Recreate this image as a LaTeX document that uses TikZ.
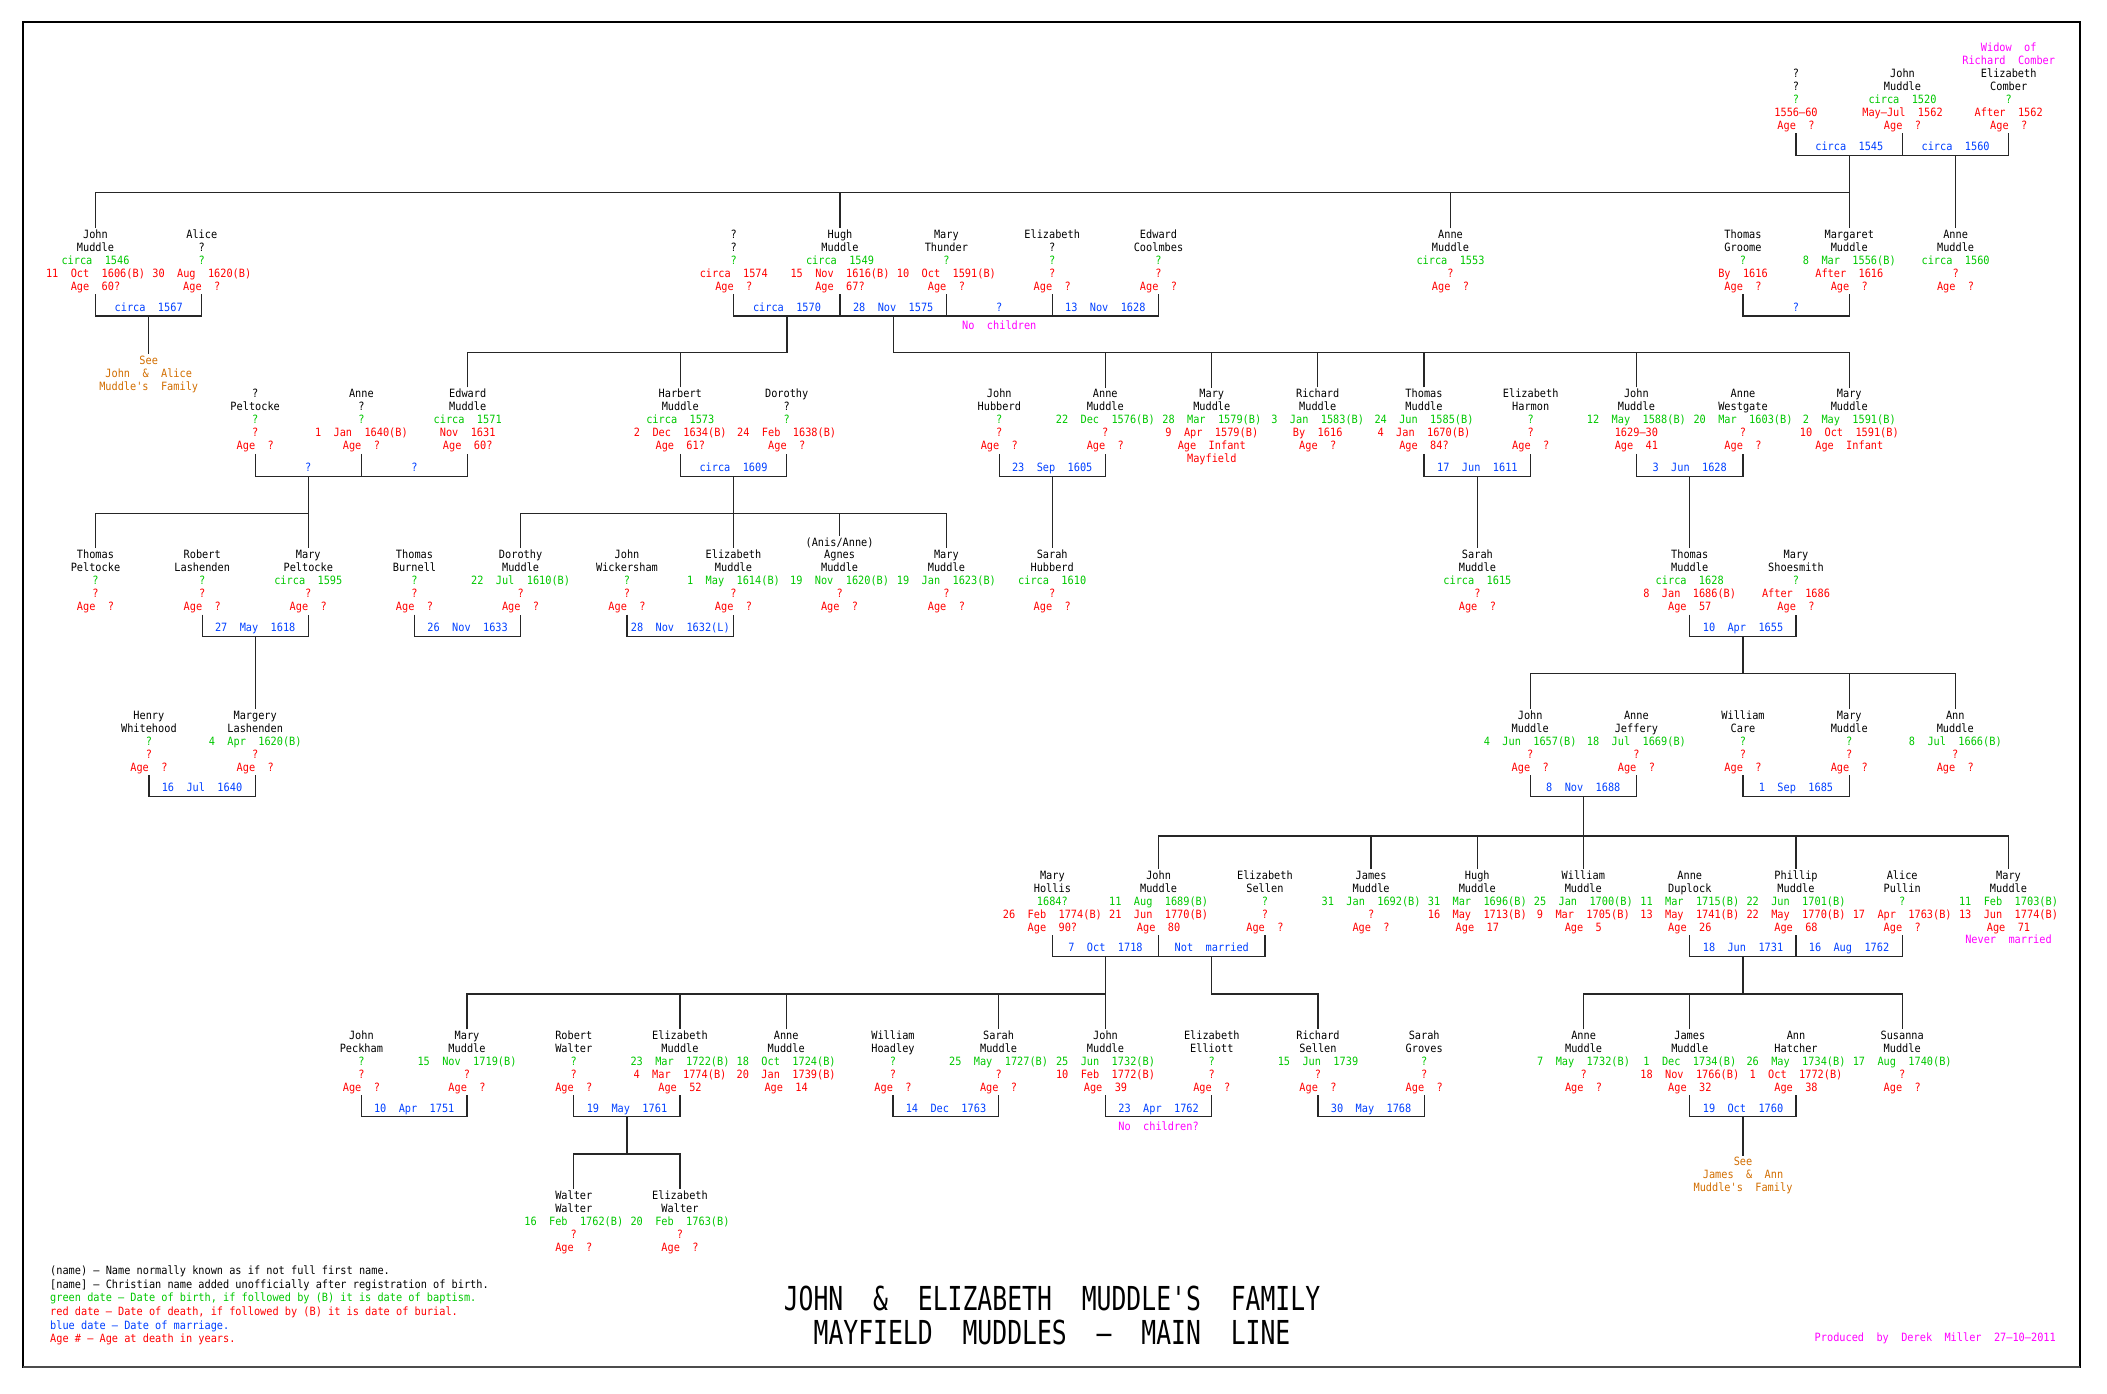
\documentclass[tikz,border=0pt]{standalone}
\usepackage{fontspec}
\newfontfamily\cad{DejaVu Sans Mono}[FakeStretch=0.9]
\newfontfamily\tfont{DejaVu Sans Mono}[FakeStretch=0.75]
\definecolor{gr}{RGB}{0,200,0}
\definecolor{rd}{RGB}{255,0,0}
\definecolor{bl}{RGB}{0,64,255}
\definecolor{mg}{RGB}{255,0,255}
\definecolor{orn}{RGB}{210,110,0}
\tikzset{
  person/.style={anchor=base, align=center, inner xsep=0pt, inner ysep=1.5pt,
    font={\cad\fontsize{11.4}{13}\selectfont\spaceskip=12.4pt\relax}, text=black},
  mlab/.style={person, text=bl},
  note/.style={person},
  legend/.style={anchor=base west, inner sep=0pt, font={\cad\fontsize{11.4}{13}\selectfont}},
  ttl/.style={anchor=base, inner sep=0pt, font={\tfont\fontsize{33}{40}\selectfont\spaceskip=29.8pt\relax}},
  ln/.style={line width=1.3pt, draw=black!85}
}
% base anchor of a multi-line node = baseline of its last line
\newcommand{\pp}[8]{\node[person] (#1) at (#2,#3+52) {#4\\#5\\\textcolor{gr}{#6}\\\textcolor{rd}{#7}\\\textcolor{rd}{#8}};}
\begin{document}
\begin{tikzpicture}[x=1pt,y=-1pt]
\fill[white] (0,0) rectangle (2107,1393);
\useasboundingbox (0,0) rectangle (2107,1393);
\draw[line width=1.3pt] (23,22) rectangle (2080,1367);
\draw[line width=2.6pt, black!70] (23,1367) -- (2080,1367);

% ---------- Row 0
\pp{p0a}{1796}{77.3}{?}{?}{?}{1556–60}{Age ?}
\pp{p0b}{1902.5}{77.3}{John}{Muddle}{circa 1520}{May–Jul 1562}{Age ?}
\pp{p0c}{2008.7}{77.3}{Elizabeth}{Comber}{?}{After 1562}{Age ?}
\node[note, text=mg] (widow) at (2008.7,64.3) {Widow of\\Richard Comber};
\node[mlab] (l0a) at (1849.3,150.7) {circa 1545};
\node[mlab] (l0b) at (1955.6,150.7) {circa 1560};

% ---------- Row 1
\pp{r1a}{95.5}{238.3}{John}{Muddle}{circa 1546}{11 Oct 1606(B)}{Age 60?}
\pp{r1b}{201.8}{238.3}{Alice}{?}{?}{30 Aug 1620(B)}{Age ?}
\pp{r1c}{733.8}{238.3}{?}{?}{?}{circa 1574}{Age ?}
\pp{r1d}{840}{238.3}{Hugh}{Muddle}{circa 1549}{15 Nov 1616(B)}{Age 67?}
\pp{r1e}{946.4}{238.3}{Mary}{Thunder}{?}{10 Oct 1591(B)}{Age ?}
\pp{r1f}{1052.2}{238.3}{Elizabeth}{?}{?}{?}{Age ?}
\pp{r1g}{1158.5}{238.3}{Edward}{Coolmbes}{?}{?}{Age ?}
\pp{r1h}{1450.5}{238.3}{Anne}{Muddle}{circa 1553}{?}{Age ?}
\pp{r1i}{1743}{238.3}{Thomas}{Groome}{?}{By 1616}{Age ?}
\pp{r1j}{1849.3}{238.3}{Margaret}{Muddle}{8 Mar 1556(B)}{After 1616}{Age ?}
\pp{r1k}{1955.6}{238.3}{Anne}{Muddle}{circa 1560}{?}{Age ?}
\node[mlab] (l1a) at (148.7,311) {circa 1567};
\node[mlab] (l1b) at (787,311) {circa 1570};
\node[mlab] (l1c) at (893.2,311) {28 Nov 1575};
\node[mlab] (l1d) at (999.3,311) {?};
\node[mlab] (l1e) at (1105.3,311) {13 Nov 1628};
\node[mlab] (l1f) at (1796,311) {?};
\node[note, text=mg] (noch) at (999.3,329.7) {No children};
\node[note, text=orn] (see1) at (148.7,390.3) {See\\John \& Alice\\Muddle's Family};

% ---------- Row 2
\pp{r2a}{255.2}{397.8}{?}{Peltocke}{?}{?}{Age ?}
\pp{r2b}{361.4}{397.8}{Anne}{?}{?}{1 Jan 1640(B)}{Age ?}
\pp{r2c}{467.7}{397.8}{Edward}{Muddle}{circa 1571}{Nov 1631}{Age 60?}
\pp{r2d}{680.3}{397.8}{Harbert}{Muddle}{circa 1573}{2 Dec 1634(B)}{Age 61?}
\pp{r2e}{786.7}{397.8}{Dorothy}{?}{?}{24 Feb 1638(B)}{Age ?}
\pp{r2f}{999.3}{397.8}{John}{Hubberd}{?}{?}{Age ?}
\pp{r2g}{1105.3}{397.8}{Anne}{Muddle}{22 Dec 1576(B)}{?}{Age ?}
\pp{r2h}{1211.8}{397.8}{Mary}{Muddle}{28 Mar 1579(B)}{9 Apr 1579(B)}{Age Infant}
\node[note, text=rd] (mayf) at (1211.8,462.8) {Mayfield};
\pp{r2i}{1317.7}{397.8}{Richard}{Muddle}{3 Jan 1583(B)}{By 1616}{Age ?}
\pp{r2j}{1424}{397.8}{Thomas}{Muddle}{24 Jun 1585(B)}{4 Jan 1670(B)}{Age 84?}
\pp{r2k}{1530.7}{397.8}{Elizabeth}{Harmon}{?}{?}{Age ?}
\pp{r2l}{1636.4}{397.8}{John}{Muddle}{12 May 1588(B)}{1629–30}{Age 41}
\pp{r2m}{1743}{397.8}{Anne}{Westgate}{20 Mar 1603(B)}{?}{Age ?}
\pp{r2n}{1849.3}{397.8}{Mary}{Muddle}{2 May 1591(B)}{10 Oct 1591(B)}{Age Infant}
\node[mlab] (l2a) at (308.3,471.3) {?};
\node[mlab] (l2b) at (414.5,471.3) {?};
\node[mlab] (l2c) at (733.5,471.3) {circa 1609};
\node[mlab] (l2d) at (1052.2,471.3) {23 Sep 1605};
\node[mlab] (l2e) at (1477.4,471.3) {17 Jun 1611};
\node[mlab] (l2f) at (1689.7,471.3) {3 Jun 1628};

% ---------- Row 3
\pp{r3a}{95.5}{558.5}{Thomas}{Peltocke}{?}{?}{Age ?}
\pp{r3b}{202.2}{558.5}{Robert}{Lashenden}{?}{?}{Age ?}
\pp{r3c}{308.3}{558.5}{Mary}{Peltocke}{circa 1595}{?}{Age ?}
\pp{r3d}{414.5}{558.5}{Thomas}{Burnell}{?}{?}{Age ?}
\pp{r3e}{520.6}{558.5}{Dorothy}{Muddle}{22 Jul 1610(B)}{?}{Age ?}
\pp{r3f}{627}{558.5}{John}{Wickersham}{?}{?}{Age ?}
\pp{r3g}{733.5}{558.5}{Elizabeth}{Muddle}{1 May 1614(B)}{?}{Age ?}
\pp{r3h}{839.6}{558.5}{Agnes}{Muddle}{19 Nov 1620(B)}{?}{Age ?}
\node[note] (anis) at (839.6,546.5) {(Anis/Anne)};
\pp{r3i}{946.4}{558.5}{Mary}{Muddle}{19 Jan 1623(B)}{?}{Age ?}
\pp{r3j}{1052.2}{558.5}{Sarah}{Hubberd}{circa 1610}{?}{Age ?}
\pp{r3k}{1477.4}{558.5}{Sarah}{Muddle}{circa 1615}{?}{Age ?}
\pp{r3l}{1689.7}{558.5}{Thomas}{Muddle}{circa 1628}{8 Jan 1686(B)}{Age 57}
\pp{r3m}{1796}{558.5}{Mary}{Shoesmith}{?}{After 1686}{Age ?}
\node[mlab] (l3a) at (255.2,631.3) {27 May 1618};
\node[mlab] (l3b) at (467.6,631.3) {26 Nov 1633};
\node[mlab] (l3c) at (680.3,631.3) {28 Nov 1632(L)};
\node[mlab] (l3d) at (1743,631.3) {10 Apr 1655};

% ---------- Row 4
\pp{r4a}{148.9}{719}{Henry}{Whitehood}{?}{?}{Age ?}
\pp{r4b}{255.2}{719}{Margery}{Lashenden}{4 Apr 1620(B)}{?}{Age ?}
\pp{r4c}{1530.2}{719}{John}{Muddle}{4 Jun 1657(B)}{?}{Age ?}
\pp{r4d}{1636.4}{719}{Anne}{Jeffery}{18 Jul 1669(B)}{?}{Age ?}
\pp{r4e}{1743}{719}{William}{Care}{?}{?}{Age ?}
\pp{r4f}{1849.3}{719}{Mary}{Muddle}{?}{?}{Age ?}
\pp{r4g}{1955.3}{719}{Ann}{Muddle}{8 Jul 1666(B)}{?}{Age ?}
\node[mlab] (l4a) at (202,791.3) {16 Jul 1640};
\node[mlab] (l4b) at (1583.3,791.3) {8 Nov 1688};
\node[mlab] (l4c) at (1796,791.3) {1 Sep 1685};

% ---------- Row 5
\pp{r5a}{1052.4}{879}{Mary}{Hollis}{1684?}{26 Feb 1774(B)}{Age 90?}
\pp{r5b}{1158.6}{879}{John}{Muddle}{11 Aug 1689(B)}{21 Jun 1770(B)}{Age 80}
\pp{r5c}{1264.9}{879}{Elizabeth}{Sellen}{?}{?}{Age ?}
\pp{r5d}{1371.1}{879}{James}{Muddle}{31 Jan 1692(B)}{?}{Age ?}
\pp{r5e}{1477.3}{879}{Hugh}{Muddle}{31 Mar 1696(B)}{16 May 1713(B)}{Age 17}
\pp{r5f}{1583.3}{879}{William}{Muddle}{25 Jan 1700(B)}{9 Mar 1705(B)}{Age 5}
\pp{r5g}{1689.8}{879}{Anne}{Duplock}{11 Mar 1715(B)}{13 May 1741(B)}{Age 26}
\pp{r5h}{1796}{879}{Phillip}{Muddle}{22 Jun 1701(B)}{22 May 1770(B)}{Age 68}
\pp{r5i}{1902.2}{879}{Alice}{Pullin}{?}{17 Apr 1763(B)}{Age ?}
\pp{r5j}{2008.5}{879}{Mary}{Muddle}{11 Feb 1703(B)}{13 Jun 1774(B)}{Age 71}
\node[note, text=mg] (nevm) at (2008.5,943.7) {Never married};
\node[mlab] (l5a) at (1105.5,951.7) {7 Oct 1718};
\node[mlab] (l5b) at (1211.8,951.7) {Not married};
\node[mlab] (l5c) at (1743,951.7) {18 Jun 1731};
\node[mlab] (l5d) at (1849,951.7) {16 Aug 1762};

% ---------- Row 6
\pp{r6a}{361.4}{1039.3}{John}{Peckham}{?}{?}{Age ?}
\pp{r6b}{467}{1039.3}{Mary}{Muddle}{15 Nov 1719(B)}{?}{Age ?}
\pp{r6c}{573.8}{1039.3}{Robert}{Walter}{?}{?}{Age ?}
\pp{r6d}{680}{1039.3}{Elizabeth}{Muddle}{23 Mar 1722(B)}{4 Mar 1774(B)}{Age 52}
\pp{r6e}{786.2}{1039.3}{Anne}{Muddle}{18 Oct 1724(B)}{20 Jan 1739(B)}{Age 14}
\pp{r6f}{893}{1039.3}{William}{Hoadley}{?}{?}{Age ?}
\pp{r6g}{998.6}{1039.3}{Sarah}{Muddle}{25 May 1727(B)}{?}{Age ?}
\pp{r6h}{1105.5}{1039.3}{John}{Muddle}{25 Jun 1732(B)}{10 Feb 1772(B)}{Age 39}
\pp{r6i}{1211.8}{1039.3}{Elizabeth}{Elliott}{?}{?}{Age ?}
\pp{r6j}{1318}{1039.3}{Richard}{Sellen}{15 Jun 1739}{?}{Age ?}
\pp{r6k}{1424.2}{1039.3}{Sarah}{Groves}{?}{?}{Age ?}
\pp{r6l}{1583.6}{1039.3}{Anne}{Muddle}{7 May 1732(B)}{?}{Age ?}
\pp{r6m}{1689.8}{1039.3}{James}{Muddle}{1 Dec 1734(B)}{18 Nov 1766(B)}{Age 32}
\pp{r6n}{1796}{1039.3}{Ann}{Hatcher}{26 May 1734(B)}{1 Oct 1772(B)}{Age 38}
\pp{r6o}{1902.2}{1039.3}{Susanna}{Muddle}{17 Aug 1740(B)}{?}{Age ?}
\node[mlab] (l6a) at (414.2,1112) {10 Apr 1751};
\node[mlab] (l6b) at (627,1112) {19 May 1761};
\node[mlab] (l6c) at (946,1112) {14 Dec 1763};
\node[mlab] (l6d) at (1158.6,1112) {23 Apr 1762};
\node[mlab] (l6e) at (1371.1,1112) {30 May 1768};
\node[mlab] (l6f) at (1743,1112) {19 Oct 1760};
\node[note, text=mg] (noch2) at (1158.6,1130.7) {No children?};
\node[note, text=orn] (see2) at (1743,1191.7) {See\\James \& Ann\\Muddle's Family};

% ---------- Row 7
\pp{r7a}{573.8}{1199}{Walter}{Walter}{16 Feb 1762(B)}{?}{Age ?}
\pp{r7b}{680}{1199}{Elizabeth}{Walter}{20 Feb 1763(B)}{?}{Age ?}

% ---------- Marriage bars
\coordinate (m0a) at (1849.3,155.7);
\coordinate (m0b) at (1955.6,155.7);
\draw[ln] (p0a.south) |- (m0a) -| (p0b.south);
\draw[ln] (p0b.south) |- (m0b) -| (p0c.south);

\coordinate (m1a) at (148.7,316);
\coordinate (m1b) at (787,316);
\coordinate (m1c) at (893.2,316);
\coordinate (m1d) at (999.3,316);
\coordinate (m1e) at (1105.3,316);
\coordinate (m1f) at (1796,316);
\draw[ln] (r1a.south) |- (m1a) -| (r1b.south);
\draw[ln] (r1c.south) |- (m1b) -- (m1e) -| (r1g.south);
\draw[ln] (r1d.south) -- (r1d.south |- m1b);
\draw[ln] (r1e.south) -- (r1e.south |- m1b);
\draw[ln] (r1f.south) -- (r1f.south |- m1b);
\draw[ln] (r1i.south) |- (m1f) -| (r1j.south);

\coordinate (m2a) at (308.3,476.3);
\coordinate (m2b) at (414.5,476.3);
\coordinate (m2c) at (733.5,476.3);
\coordinate (m2d) at (1052.2,476.3);
\coordinate (m2e) at (1477.4,476.3);
\coordinate (m2f) at (1689.7,476.3);
\draw[ln] (r2a.south) |- (m2a) -- (m2b) -| (r2c.south);
\draw[ln] (r2b.south) -- (r2b.south |- m2a);
\draw[ln] (r2d.south) |- (m2c) -| (r2e.south);
\draw[ln] (r2f.south) |- (m2d) -| (r2g.south);
\draw[ln] (r2j.south) |- (m2e) -| (r2k.south);
\draw[ln] (r2l.south) |- (m2f) -| (r2m.south);

\coordinate (m3a) at (255.2,636.3);
\coordinate (m3b) at (467.6,636.3);
\coordinate (m3c) at (680.3,636.3);
\coordinate (m3d) at (1743,636.3);
\draw[ln] (r3b.south) |- (m3a) -| (r3c.south);
\draw[ln] (r3d.south) |- (m3b) -| (r3e.south);
\draw[ln] (r3f.south) |- (m3c) -| (r3g.south);
\draw[ln] (r3l.south) |- (m3d) -| (r3m.south);

\coordinate (m4a) at (202,796.7);
\coordinate (m4b) at (1583.3,796.7);
\coordinate (m4c) at (1796,796.7);
\draw[ln] (r4a.south) |- (m4a) -| (r4b.south);
\draw[ln] (r4c.south) |- (m4b) -| (r4d.south);
\draw[ln] (r4e.south) |- (m4c) -| (r4f.south);

\coordinate (m5a) at (1105.5,956.7);
\coordinate (m5b) at (1211.8,956.7);
\coordinate (m5c) at (1743,956.7);
\coordinate (m5d) at (1849,956.7);
\draw[ln] (r5a.south) |- (m5a) -- (m5b) -| (r5c.south);
\draw[ln] (r5b.south) -- (r5b.south |- m5a);
\draw[ln] (r5g.south) |- (m5c) -- (m5d) -| (r5i.south);
\draw[ln] (r5h.south) -- (r5h.south |- m5c);

\coordinate (m6a) at (414.2,1116.7);
\coordinate (m6b) at (627,1116.7);
\coordinate (m6c) at (946,1116.7);
\coordinate (m6d) at (1158.6,1116.7);
\coordinate (m6e) at (1371.1,1116.7);
\coordinate (m6f) at (1743,1116.7);
\draw[ln] (r6a.south) |- (m6a) -| (r6b.south);
\draw[ln] (r6c.south) |- (m6b) -| (r6d.south);
\draw[ln] (r6f.south) |- (m6c) -| (r6g.south);
\draw[ln] (r6h.south) |- (m6d) -| (r6i.south);
\draw[ln] (r6j.south) |- (m6e) -| (r6k.south);
\draw[ln] (r6m.south) |- (m6f) -| (r6n.south);

% ---------- Descent lines
\coordinate (s0) at (1849.3,192.7);
\draw[ln] (m0a) -- (r1j.north);
\draw[ln] (r1a.north) |- (s0);
\draw[ln] (r1d.north) -- (r1d.north |- s0);
\draw[ln] (r1h.north) -- (r1h.north |- s0);
\draw[ln] (m0b) -- (r1k.north);

\draw[ln] (m1a) -- (see1.north);
\coordinate (s1b) at (787,352.7);
\draw[ln] (m1b) -- (s1b);
\draw[ln] (r2c.north) |- (s1b);
\draw[ln] (r2d.north) -- (r2d.north |- s1b);
\coordinate (s1c) at (893.2,352.7);
\draw[ln] (m1c) -- (s1c) -| (r2n.north);
\foreach \c in {r2g,r2h,r2i,r2j,r2l} \draw[ln] (\c.north) -- (\c.north |- s1c);

\coordinate (s2a) at (308.3,513.7);
\draw[ln] (m2a) -- (r3c.north);
\draw[ln] (r3a.north) |- (s2a);
\coordinate (s2b) at (733.5,513.7);
\draw[ln] (m2c) -- (r3g.north);
\draw[ln] (r3e.north) |- (s2b) -| (r3i.north);
\draw[ln] (anis.north) -- (anis.north |- s2b);
\draw[ln] (m2d) -- (r3j.north);
\draw[ln] (m2e) -- (r3k.north);
\draw[ln] (m2f) -- (r3l.north);

\draw[ln] (m3a) -- (r4b.north);
\coordinate (s3b) at (1743,673.7);
\draw[ln] (m3d) -- (s3b);
\draw[ln] (r4c.north) |- (s3b) -| (r4g.north);
\draw[ln] (r4f.north) -- (r4f.north |- s3b);

\coordinate (s4) at (1583.3,836);
\draw[ln] (m4b) -- (r5f.north);
\draw[ln] (r5b.north) |- (s4) -| (r5j.north);
\foreach \c in {r5d,r5e,r5h} \draw[ln] (\c.north) -- (\c.north |- s4);

\coordinate (s5a) at (1105.5,994);
\draw[ln] (m5a) -- (r6h.north);
\draw[ln] (r6b.north) |- (s5a);
\foreach \c in {r6d,r6e,r6g} \draw[ln] (\c.north) -- (\c.north |- s5a);
\coordinate (s5b) at (1211.8,994);
\draw[ln] (m5b) -- (s5b) -| (r6j.north);
\coordinate (s5c) at (1743,994);
\draw[ln] (m5c) -- (s5c);
\draw[ln] (r6l.north) |- (s5c) -| (r6o.north);
\draw[ln] (r6m.north) -- (r6m.north |- s5c);

\coordinate (s6a) at (627,1154);
\draw[ln] (m6b) -- (s6a);
\draw[ln] (r7a.north) |- (s6a) -| (r7b.north);
\draw[ln] (m6f) -- (see2.north);

% ---------- Legend, title, credit
\node[legend] (lg1) at (50,1274.5) {(name) – Name normally known as if not full first name.};
\node[legend] (lg2) at (50,1288) {[name] – Christian name added unofficially after registration of birth.};
\node[legend, text=gr] (lg3) at (50,1301.5) {green date – Date of birth, if followed by (B) it is date of baptism.};
\node[legend, text=rd] (lg4) at (50,1315.5) {red date – Date of death, if followed by (B) it is date of burial.};
\node[legend, text=bl] (lg5) at (50,1329) {blue date – Date of marriage.};
\node[legend, text=rd] (lg6) at (50,1342.5) {Age \# – Age at death in years.};
\node[ttl] (t1) at (1052,1310) {JOHN \& ELIZABETH MUDDLE'S FAMILY};
\node[ttl] (t2) at (1052,1344) {MAYFIELD MUDDLES – MAIN LINE};
\node[person, text=mg, anchor=base east] (prod) at (2056,1341) {Produced by Derek Miller 27–10–2011};
\end{tikzpicture}
\end{document}
